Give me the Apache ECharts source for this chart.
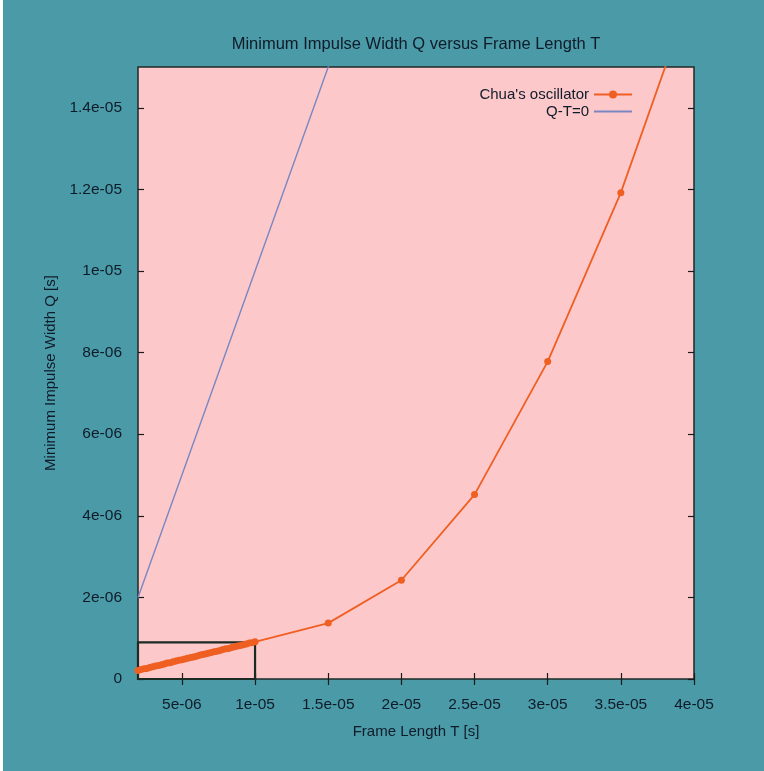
<!DOCTYPE html>
<html>
<head>
<meta charset="utf-8">
<script src="https://cdn.jsdelivr.net/npm/echarts@6/dist/echarts.min.js"></script>
<style>
  html, body { margin: 0; padding: 0; background: #ffffff; }
  #chart { position: absolute; left: 3px; top: 0; width: 761px; height: 771px; }
</style>
</head>
<body>
<div id="chart"></div>
<script>
// Frame length T [s] and the measured minimum impulse width Q [s] for Chua's oscillator
const frameLength = [
  2.0e-6, 2.2e-6, 2.4e-6, 2.6e-6, 2.8e-6, 3.0e-6, 3.2e-6, 3.4e-6, 3.6e-6, 3.8e-6,
  4.0e-6, 4.2e-6, 4.4e-6, 4.6e-6, 4.8e-6, 5.0e-6, 5.2e-6, 5.4e-6, 5.6e-6, 5.8e-6,
  6.0e-6, 6.2e-6, 6.4e-6, 6.6e-6, 6.8e-6, 7.0e-6, 7.2e-6, 7.4e-6, 7.6e-6, 7.8e-6,
  8.0e-6, 8.2e-6, 8.4e-6, 8.6e-6, 8.8e-6, 9.0e-6, 9.2e-6, 9.4e-6, 9.6e-6, 9.8e-6,
  1.0e-5, 1.5e-5, 2.0e-5, 2.5e-5, 3.0e-5, 3.5e-5, 4.0e-5
];
const impulseWidth = [
  2.1e-7, 2.3e-7, 2.5e-7, 2.6e-7, 2.8e-7, 3.0e-7, 3.2e-7, 3.3e-7, 3.5e-7, 3.7e-7,
  3.9e-7, 4.0e-7, 4.2e-7, 4.4e-7, 4.6e-7, 4.7e-7, 4.9e-7, 5.1e-7, 5.3e-7, 5.4e-7,
  5.6e-7, 5.8e-7, 6.0e-7, 6.1e-7, 6.3e-7, 6.5e-7, 6.7e-7, 6.8e-7, 7.0e-7, 7.2e-7,
  7.4e-7, 7.5e-7, 7.7e-7, 7.9e-7, 8.1e-7, 8.2e-7, 8.4e-7, 8.6e-7, 8.8e-7, 8.9e-7,
  9.1e-7, 1.37e-6, 2.42e-6, 4.52e-6, 7.78e-6, 1.192e-5, 1.70e-5
];
// Reference line Q - T = 0
const identityT = [2e-6, 4e-5];
const identityQ = [2e-6, 4e-5];
// Highlighted region around the densely sampled part
const zoomBoxT = [2e-6, 1e-5];
const zoomBoxQ = [0, 9e-7];

const xTickValues = [5e-6, 1e-5, 1.5e-5, 2e-5, 2.5e-5, 3e-5, 3.5e-5, 4e-5];
const xTickLabels = ['5e-06', '1e-05', '1.5e-05', '2e-05', '2.5e-05', '3e-05', '3.5e-05', '4e-05'];
const yTickValues = [0, 2e-6, 4e-6, 6e-6, 8e-6, 1e-5, 1.2e-5, 1.4e-5];
const yTickLabels = ['0', '2e-06', '4e-06', '6e-06', '8e-06', '1e-05', '1.2e-05', '1.4e-05'];

function labelFor(values, labels) {
  return function (v) {
    let best = 0;
    for (let i = 1; i < values.length; i++) {
      if (Math.abs(values[i] - v) < Math.abs(values[best] - v)) best = i;
    }
    return labels[best];
  };
}

const FONT = '"Liberation Sans", Arial, Helvetica, sans-serif';
const INK = '#0f1b29';
const tickStyle = { show: true, inside: true, length: 6, lineStyle: { color: '#1a1a1a', width: 1.2 } };

const chart = echarts.init(document.getElementById('chart'));
chart.setOption({
  backgroundColor: '#4b9aa7',
  animation: false,
  textStyle: { fontFamily: FONT },
  title: {
    text: 'Minimum Impulse Width Q versus Frame Length T',
    left: 408, top: 31, textAlign: 'center',
    textStyle: { fontFamily: FONT, fontSize: 16.5, fontWeight: 'normal', color: INK }
  },
  legend: {
    orient: 'vertical', right: 126, top: 82, align: 'right',
    itemWidth: 38, itemHeight: 10, itemGap: 2,
    textStyle: { fontFamily: FONT, fontSize: 15, lineHeight: 14, color: INK },
    data: [
      { name: "Chua's oscillator" },
      // line-only key: the marker part of the icon is hidden
      { name: 'Q-T=0', itemStyle: { opacity: 0 } }
    ]
  },
  grid: {
    left: 135, right: 70, top: 67, bottom: 92,
    show: true, backgroundColor: '#fdc8ca', borderColor: '#1e2a28', borderWidth: 1.5
  },
  xAxis: [{
    type: 'value', min: 2e-6, max: 4e-5,
    name: 'Frame Length T [s]', nameLocation: 'middle', nameGap: 45,
    nameTextStyle: { fontFamily: FONT, fontSize: 15, color: INK },
    axisLine: { show: false },
    axisTick: Object.assign({ customValues: xTickValues }, tickStyle),
    axisLabel: { customValues: xTickValues, formatter: labelFor(xTickValues, xTickLabels),
                 margin: 18, fontFamily: FONT, fontSize: 15.5, color: INK },
    splitLine: { show: false }
  }, {
    type: 'value', position: 'top', min: 2e-6, max: 4e-5,
    axisLine: { show: false },
    axisTick: Object.assign({ customValues: xTickValues }, tickStyle),
    axisLabel: { show: false }, splitLine: { show: false }
  }],
  yAxis: [{
    type: 'value', min: 0, max: 1.5e-5,
    name: 'Minimum Impulse Width Q [s]', nameLocation: 'middle', nameGap: 77,
    nameTextStyle: { fontFamily: FONT, fontSize: 15, color: INK },
    axisLine: { show: false },
    axisTick: Object.assign({ customValues: yTickValues }, tickStyle),
    axisLabel: { customValues: yTickValues, formatter: labelFor(yTickValues, yTickLabels),
                 margin: 16, fontFamily: FONT, fontSize: 15.5, color: INK },
    splitLine: { show: false }
  }, {
    type: 'value', position: 'right', min: 0, max: 1.5e-5,
    axisLine: { show: false },
    axisTick: Object.assign({ customValues: yTickValues }, tickStyle),
    axisLabel: { show: false }, splitLine: { show: false }
  }],
  series: [{
    name: "Chua's oscillator",
    type: 'line',
    data: frameLength.map((t, i) => [t, impulseWidth[i]]),
    symbol: 'circle', symbolSize: 7,
    lineStyle: { color: '#ef5f22', width: 1.8 },
    itemStyle: { color: '#ef5f22' },
    clip: true, z: 3,
    markArea: {
      silent: true,
      itemStyle: { color: 'rgba(0,0,0,0)', borderColor: '#1b2a22', borderWidth: 2.2 },
      data: [[{ coord: [zoomBoxT[0], zoomBoxQ[0]] }, { coord: [zoomBoxT[1], zoomBoxQ[1]] }]]
    }
  }, {
    name: 'Q-T=0',
    type: 'line',
    data: identityT.map((t, i) => [t, identityQ[i]]),
    showSymbol: false, symbol: 'none',
    lineStyle: { color: '#7a86c2', width: 1.4 },
    itemStyle: { color: '#7a86c2' },
    clip: true, z: 2
  }]
});
</script>
</body>
</html>
